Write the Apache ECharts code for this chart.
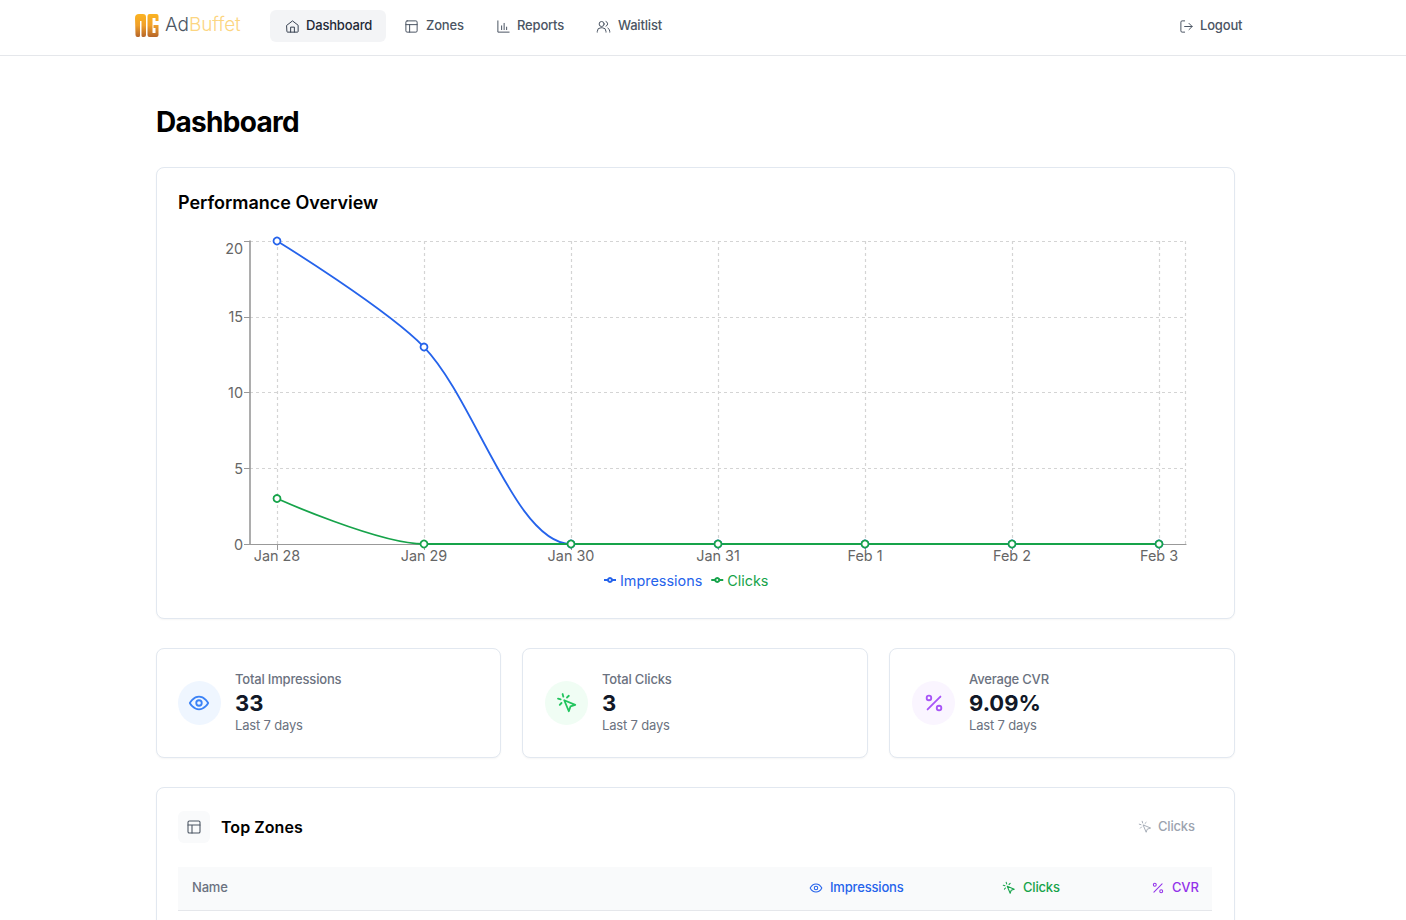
<!DOCTYPE html>
<html>
<head>
<meta charset="utf-8">
<title>AdBuffet Dashboard</title>
<script src="https://cdn.jsdelivr.net/npm/echarts@6/dist/echarts.min.js"></script>
<style>
  html, body { margin: 0; padding: 0; background: #fff; }
  body { width: 1406px; height: 920px; overflow: hidden; position: relative; font-family: Inter, sans-serif; color: #111827; }
  .abs { position: absolute; white-space: nowrap; line-height: 1; }
  .nav { font-size: 13px; font-weight: 500; color: #4b5563; letter-spacing: -0.18px; }
  .small { font-size: 13px; letter-spacing: -0.18px; }
  .big { font-size: 22px; font-weight: 700; }
  .card { position: absolute; box-sizing: border-box; background: #fff; border: 1px solid #e2e8f0; border-radius: 8px; box-shadow: 0 1px 2px rgba(0,0,0,.04); }
  svg.ic { position: absolute; fill: none; stroke: currentColor; stroke-width: 1.6; stroke-linecap: round; stroke-linejoin: round; }
  #chart { position: absolute; left: 178px; top: 230px; width: 1034px; height: 370px; }
</style>
</head>
<body>
<div class="abs" style="left:0;top:55px;width:1406px;height:1px;background:#e5e7eb"></div>

<!-- logo -->
<svg class="abs" style="left:135px;top:14px" width="24" height="24" viewBox="0 0 24 24">
  <defs><linearGradient id="lg" x1="0" y1="0" x2="0" y2="1"><stop offset="0" stop-color="#fbb321"/><stop offset="0.5" stop-color="#f0a02a"/><stop offset="1" stop-color="#b5652a"/></linearGradient></defs>
  <path d="M0 4a4 4 0 0 1 4-4h4a3 3 0 0 1 3 3v18a2 2 0 0 1-2 2h-1a1.500 1.500 0 0 1-1.500-1.500V7h-1.500v14.500a1.500 1.500 0 0 1-1.500 1.500h-1a2 2 0 0 1-2-2z" fill="url(#lg)"/>
  <path d="M12.500 2a2 2 0 0 1 2-2h7a2 2 0 0 1 2 2v5h-3V4h-3v15h3v-5h-2v-3h5v10a2 2 0 0 1-2 2h-7a2 2 0 0 1-2-2z" fill="url(#lg)"/>
</svg>
<div class="abs" style="left:165px;top:15px;font-size:19px;font-weight:300;letter-spacing:-0.1px"><span style="color:#4b5563">Ad</span><span style="color:#fcd581">Buffet</span></div>

<div class="abs" style="left:270px;top:10px;width:116px;height:32px;background:#f3f4f6;border-radius:6px"></div>
<svg class="ic" style="left:285px;top:19px;color:#374151" width="15" height="15" viewBox="0 0 24 24"><path d="M3 10l9-7 9 7v10a1 1 0 0 1-1 1H4a1 1 0 0 1-1-1z"/><path d="M9 21v-8h6v8"/></svg>
<div class="abs nav" style="left:306px;top:19px;color:#1f2937">Dashboard</div>
<svg class="ic" style="left:404px;top:19px;color:#4b5563" width="15" height="15" viewBox="0 0 24 24"><rect x="3" y="3" width="18" height="18" rx="2"/><path d="M3 9h18M9 21V9"/></svg>
<div class="abs nav" style="left:426px;top:19px">Zones</div>
<svg class="ic" style="left:496px;top:19px;color:#4b5563" width="15" height="15" viewBox="0 0 24 24"><path d="M3 3v18h18M9 17v-6M13 17V7M17 17v-4"/></svg>
<div class="abs nav" style="left:517px;top:19px">Reports</div>
<svg class="ic" style="left:596px;top:19px;color:#4b5563" width="15" height="15" viewBox="0 0 24 24"><circle cx="9" cy="8" r="4"/><path d="M2 21v-1a6 6 0 0 1 6-6h2a6 6 0 0 1 6 6v1M16 4a4 4 0 0 1 0 7.500M19 14.500a6 6 0 0 1 3 5.500v1"/></svg>
<div class="abs nav" style="left:618px;top:19px">Waitlist</div>
<svg class="ic" style="left:1179px;top:19px;color:#4b5563" width="15" height="15" viewBox="0 0 24 24"><path d="M9 21H5a2 2 0 0 1-2-2V5a2 2 0 0 1 2-2h4M16 17l5-5-5-5M21 12H9"/></svg>
<div class="abs nav" style="left:1200px;top:19px">Logout</div>

<div class="abs" style="left:156px;top:108px;font-size:28px;font-weight:700;color:#000;letter-spacing:-0.7px">Dashboard</div>

<!-- performance card -->
<div class="card" style="left:156px;top:167px;width:1079px;height:452px"></div>
<div class="abs" style="left:178px;top:194px;font-size:18px;font-weight:600;color:#000;letter-spacing:-0.02px">Performance Overview</div>
<div id="chart"></div>

<!-- stat cards -->
<div class="card" style="left:156px;top:648px;width:345px;height:110px"></div>
<div class="abs" style="left:178px;top:681px;width:43px;height:44px;border-radius:50%;background:#eff6ff"></div>
<svg class="ic" style="left:188px;top:692px;color:#3b82f6;stroke-width:2" width="22" height="22" viewBox="0 0 24 24"><path d="M2 12s3.600-7 10-7 10 7 10 7-3.600 7-10 7-10-7-10-7z"/><circle cx="12" cy="12" r="3"/></svg>
<div class="abs small" style="left:235px;top:673px;font-weight:500;color:#6b7280">Total Impressions</div>
<div class="abs big" style="left:235px;top:692px">33</div>
<div class="abs small" style="left:235px;top:719px;color:#6b7280">Last 7 days</div>

<div class="card" style="left:522px;top:648px;width:346px;height:110px"></div>
<div class="abs" style="left:545px;top:681px;width:43px;height:44px;border-radius:50%;background:#f0fdf4"></div>
<svg class="ic" style="left:556px;top:692px;color:#22c55e;stroke-width:2" width="22" height="22" viewBox="0 0 24 24"><path d="M9 9l5 12 1.800-5.200L21 14z"/><path d="M7.200 2.200L8 5.100M5.100 8L2.200 7.200M14 4.100L12 6M4.100 14L6 12"/></svg>
<div class="abs small" style="left:602px;top:673px;font-weight:500;color:#6b7280">Total Clicks</div>
<div class="abs big" style="left:602px;top:692px">3</div>
<div class="abs small" style="left:602px;top:719px;color:#6b7280">Last 7 days</div>

<div class="card" style="left:889px;top:648px;width:346px;height:110px"></div>
<div class="abs" style="left:912px;top:681px;width:43px;height:44px;border-radius:50%;background:#faf5ff"></div>
<svg class="ic" style="left:923px;top:692px;color:#a855f7;stroke-width:2" width="22" height="22" viewBox="0 0 24 24"><path d="M19 5L5 19"/><circle cx="6.500" cy="6.500" r="2.500"/><circle cx="17.500" cy="17.500" r="2.500"/></svg>
<div class="abs small" style="left:969px;top:673px;font-weight:500;color:#6b7280">Average CVR</div>
<div class="abs big" style="left:969px;top:692px">9.09%</div>
<div class="abs small" style="left:969px;top:719px;color:#6b7280">Last 7 days</div>

<!-- top zones -->
<div class="card" style="left:156px;top:787px;width:1079px;height:200px"></div>
<div class="abs" style="left:178px;top:811px;width:32px;height:32px;border-radius:6px;background:#f9fafb"></div>
<svg class="ic" style="left:186px;top:819px;color:#4b5563" width="16" height="16" viewBox="0 0 24 24"><rect x="3" y="3" width="18" height="18" rx="2"/><path d="M3 9h18M9 21V9"/></svg>
<div class="abs" style="left:221px;top:819px;font-size:16px;font-weight:600;color:#000;letter-spacing:0.05px">Top Zones</div>
<svg class="ic" style="left:1138px;top:820px;color:#9ca3af;stroke-width:1.500" width="14" height="14" viewBox="0 0 24 24"><path d="M9 9l5 12 1.800-5.200L21 14z"/><path d="M7.200 2.200L8 5.100M5.100 8L2.200 7.200M14 4.100L12 6M4.100 14L6 12"/></svg>
<div class="abs small" style="left:1158px;top:820px;font-weight:500;color:#9ca3af">Clicks</div>

<div class="abs" style="left:178px;top:867px;width:1034px;height:43px;background:#f9fafb;border-bottom:1px solid #e5e7eb"></div>
<div class="abs small" style="left:192px;top:881px;font-weight:500;color:#6b7280">Name</div>
<svg class="ic" style="left:809px;top:881px;color:#2563eb;stroke-width:1.800" width="14" height="14" viewBox="0 0 24 24"><path d="M2 12s3.600-7 10-7 10 7 10 7-3.600 7-10 7-10-7-10-7z"/><circle cx="12" cy="12" r="3"/></svg>
<div class="abs small" style="left:830px;top:881px;font-weight:500;color:#2563eb">Impressions</div>
<svg class="ic" style="left:1002px;top:881px;color:#16a34a;stroke-width:1.800" width="14" height="14" viewBox="0 0 24 24"><path d="M9 9l5 12 1.800-5.200L21 14z"/><path d="M7.200 2.200L8 5.100M5.100 8L2.200 7.200M14 4.100L12 6M4.100 14L6 12"/></svg>
<div class="abs small" style="left:1023px;top:881px;font-weight:500;color:#16a34a">Clicks</div>
<svg class="ic" style="left:1151px;top:881px;color:#9333ea;stroke-width:1.800" width="14" height="14" viewBox="0 0 24 24"><path d="M19 5L5 19"/><circle cx="6.500" cy="6.500" r="2.500"/><circle cx="17.500" cy="17.500" r="2.500"/></svg>
<div class="abs small" style="left:1172px;top:881px;font-weight:500;color:#9333ea">CVR</div>

<script>
// chart data
var dates = ['Jan 28', 'Jan 29', 'Jan 30', 'Jan 31', 'Feb 1', 'Feb 2', 'Feb 3'];
var impressions = [20, 13, 0, 0, 0, 0, 0];
var clicks = [3, 0, 0, 0, 0, 0, 0];
var yTicks = [0, 5, 10, 15, 20];

// the dates sit inside the plot, 27px in from each side (one day is 147px)
var xPad = 27 / 147;
var xMax = dates.length - 1 + xPad;
var dayIndex = dates.map(function (d, i) { return i; });
var gridLine = { color: '#d4d4d4', type: [3, 3], width: 1.2 };

function pairs(values) {
    return values.map(function (v, i) { return [i, v]; });
}

function lineSeries(name, values, color) {
    return {
        name: name,
        type: 'line',
        smooth: 0.3,
        symbol: 'circle',
        symbolSize: 7,
        showAllSymbol: true,
        lineStyle: { color: color, width: 1.8 },
        itemStyle: { color: '#fff', borderColor: color, borderWidth: 1.8 },
        data: pairs(values)
    };
}

var myChart = echarts.init(document.getElementById('chart'), null, { renderer: 'svg' });
var clicksSeries = lineSeries('Clicks', clicks, '#16a34a');
// dashed border on the right side of the plot
clicksSeries.markLine = {
    silent: true,
    symbol: 'none',
    label: { show: false },
    lineStyle: gridLine,
    data: [{ xAxis: xMax }]
};

var option = {
    animation: false,
    textStyle: { fontFamily: 'Inter, sans-serif' },
    grid: { left: 72, top: 11, width: 936, height: 303 },
    legend: {
        left: 420,
        top: 338,
        itemWidth: 12,
        itemHeight: 5,
        itemGap: 8,
        data: [
            { name: 'Impressions', textStyle: { color: '#2563eb' } },
            { name: 'Clicks', textStyle: { color: '#16a34a' } }
        ],
        textStyle: { fontSize: 14.4, padding: [0, 0, 0, -1] }
    },
    xAxis: {
        type: 'value',
        min: -xPad,
        max: xMax,
        interval: 1,
        axisLine: { show: true, onZero: false, lineStyle: { color: '#999', width: 1.2 } },
        axisTick: { show: true, length: 6, customValues: dayIndex, lineStyle: { color: '#999' } },
        axisLabel: {
            customValues: dayIndex,
            color: '#666',
            fontSize: 14.4,
            margin: 4,
            formatter: function (v) { return dates[v]; }
        },
        splitLine: { show: true, lineStyle: gridLine }
    },
    yAxis: {
        type: 'value',
        min: yTicks[0],
        max: yTicks[yTicks.length - 1],
        interval: 5,
        axisLine: { show: true, onZero: false, lineStyle: { color: '#999', width: 1.6 } },
        axisTick: { show: true, length: 6, lineStyle: { color: '#999' } },
        axisLabel: { color: '#666', fontSize: 14.4, margin: 7, padding: [0, 0, 3, 0], verticalAlignMaxLabel: 'top' },
        splitLine: { show: true, lineStyle: gridLine }
    },
    series: [
        lineSeries('Impressions', impressions, '#2563eb'),
        clicksSeries
    ]
};
myChart.setOption(option);
</script>
</body>
</html>
